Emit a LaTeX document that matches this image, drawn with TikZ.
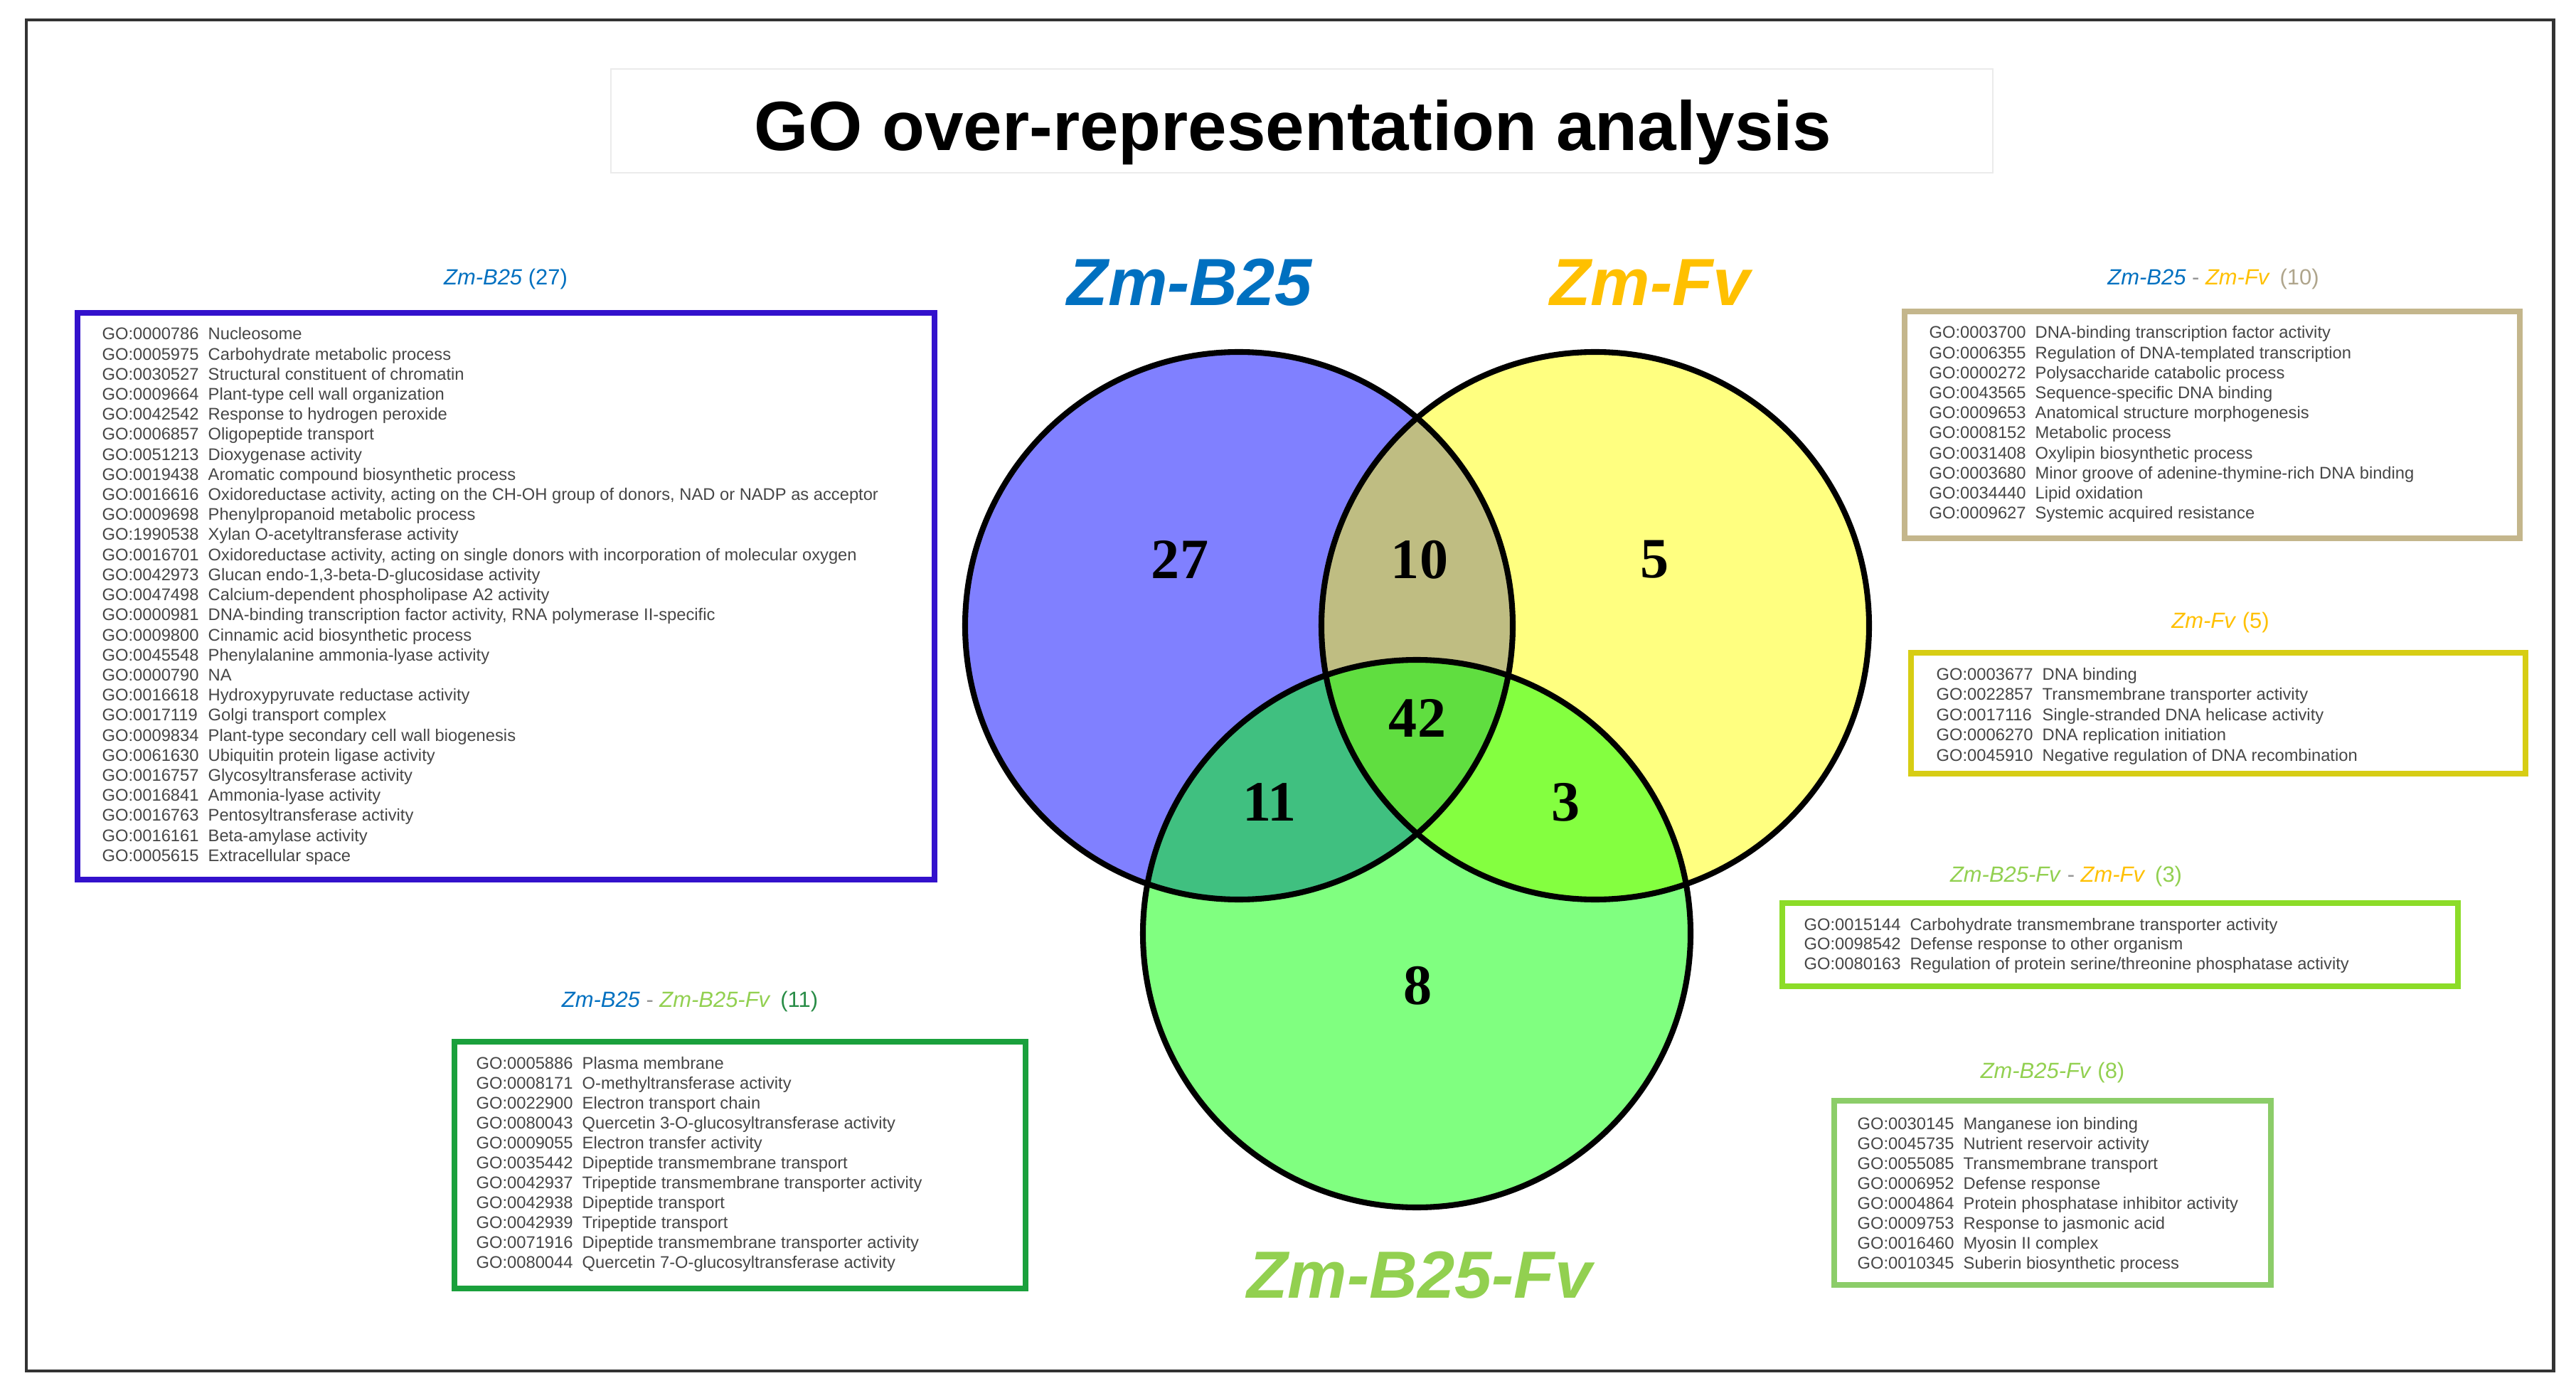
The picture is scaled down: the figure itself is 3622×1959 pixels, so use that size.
\documentclass[tikz,border=0pt]{standalone}
\usepackage{fontspec}
\setmainfont{Liberation Sans}
\newfontfamily\numfont{Liberation Serif}
\definecolor{gotext}{RGB}{70,70,70}
\definecolor{cB}{RGB}{0,112,192}
\definecolor{cY}{RGB}{255,192,0}
\definecolor{cG}{RGB}{146,208,80}
\definecolor{cTan}{RGB}{175,165,140}
\definecolor{cDkG}{RGB}{40,140,70}
\definecolor{cDash}{RGB}{150,150,150}
\definecolor{bIndigo}{RGB}{51,17,204}
\definecolor{bGreen}{RGB}{26,160,60}
\definecolor{bTan}{RGB}{196,182,140}
\definecolor{bYellow}{RGB}{215,205,20}
\definecolor{bLime}{RGB}{140,220,40}
\definecolor{bLight}{RGB}{140,205,105}
\definecolor{vB}{RGB}{128,128,255}
\definecolor{vY}{RGB}{255,255,128}
\definecolor{vG}{RGB}{128,255,128}
\definecolor{vBY}{RGB}{191,189,130}
\definecolor{vBG}{RGB}{64,192,128}
\definecolor{vYG}{RGB}{132,255,64}
\definecolor{vBYG}{RGB}{96,222,64}
\newcommand\golines[5]{%
  \foreach \gid/\gdesc [count=\gi from 0] in {#5}{%
    \node[goline] (#1-\gi) at (#2,{#3+\gi*#4}) {\makebox[14.9mm][l]{\gid}\gdesc};}}
\begin{document}
\begin{tikzpicture}[x=0.1mm,y=-0.1mm,
  goline/.style={anchor=base west, inner sep=0, font=\fontsize{6.75}{7.8}\selectfont, text=gotext},
  boxlabel/.style={inner sep=0, font=\fontsize{8.8}{10}\selectfont},
  gobox/.style={line width=2.2pt},
  vennline/.style={line width=2.3pt, black},
  bignum/.style={inner sep=0, font=\numfont\bfseries\fontsize{22.8}{24}\selectfont},
  setname/.style={anchor=base, inner sep=0, font=\bfseries\itshape\fontsize{26.7}{28}\selectfont}]
\useasboundingbox (0,0) rectangle (3622,1959);
\fill[white] (0,0) rectangle (3622,1959);
\draw[line width=1.4pt, black!80] (37,28) rectangle (3590,1928);
\draw[black!8, line width=0.6pt] (859,97) rectangle (2802,243);

% title
\node[anchor=base, inner sep=0, font=\bfseries\fontsize{27.9}{30}\selectfont] (title) at (1818,212) {GO over-representation analysis};

% Venn
\coordinate (cb) at (1742,880);
\coordinate (cy) at (2243,880);
\coordinate (cg) at (1992,1313);
\fill[vB] (cb) circle (385);
\fill[vY] (cy) circle (385);
\fill[vG] (cg) circle (385);
\begin{scope}
  \clip (cy) circle (385);
  \fill[vYG] (cg) circle (385);
\end{scope}
\begin{scope}
  \clip (cb) circle (385);
  \fill[vBY] (cy) circle (385);
  \fill[vBG] (cg) circle (385);
  \clip (cy) circle (385);
  \fill[vBYG] (cg) circle (385);
\end{scope}
\draw[vennline] (cb) circle (385);
\draw[vennline] (cy) circle (385);
\draw[vennline] (cg) circle (385);

\node[bignum] (n27) at (1659,787) {27};
\node[bignum] (n10) at (1996,787) {10};
\node[bignum] (n5) at (2327,787) {5};
\node[bignum] (n42) at (1993,1010) {42};
\node[bignum] (n11) at (1785,1128) {11};
\node[bignum] (n3) at (2202,1128) {3};
\node[bignum] (n8) at (1994,1386) {8};

\node[setname, text=cB] (sB) at (1673,430) {Zm-B25};
\node[setname, text=cY] (sY) at (2320,430) {Zm-Fv};
\node[setname, text=cG] (sG) at (1996,1825) {Zm-B25-Fv};

% Box 1: Zm-B25 (27)
\draw[gobox, bIndigo] (109,440) rectangle (1314,1237);
\node[boxlabel] (lab1) at (711,393) {\textcolor{cB}{\textit{Zm-B25} (27)}};
\golines{a}{143}{478}{28.2}{GO:0000786/{Nucleosome},
GO:0005975/{Carbohydrate metabolic process},
GO:0030527/{Structural constituent of chromatin},
GO:0009664/{Plant-type cell wall organization},
GO:0042542/{Response to hydrogen peroxide},
GO:0006857/{Oligopeptide transport},
GO:0051213/{Dioxygenase activity},
GO:0019438/{Aromatic compound biosynthetic process},
GO:0016616/{Oxidoreductase activity, acting on the CH-OH group of donors, NAD or NADP as acceptor},
GO:0009698/{Phenylpropanoid metabolic process},
GO:1990538/{Xylan O-acetyltransferase activity},
GO:0016701/{Oxidoreductase activity, acting on single donors with incorporation of molecular oxygen},
GO:0042973/{Glucan endo-1,3-beta-D-glucosidase activity},
GO:0047498/{Calcium-dependent phospholipase A2 activity},
GO:0000981/{DNA-binding transcription factor activity, RNA polymerase II-specific},
GO:0009800/{Cinnamic acid biosynthetic process},
GO:0045548/{Phenylalanine ammonia-lyase activity},
GO:0000790/{NA},
GO:0016618/{Hydroxypyruvate reductase activity},
GO:0017119/{Golgi transport complex},
GO:0009834/{Plant-type secondary cell wall biogenesis},
GO:0061630/{Ubiquitin protein ligase activity},
GO:0016757/{Glycosyltransferase activity},
GO:0016841/{Ammonia-lyase activity},
GO:0016763/{Pentosyltransferase activity},
GO:0016161/{Beta-amylase activity},
GO:0005615/{Extracellular space}}

% Box 2: Zm-B25 - Zm-B25-Fv (11)
\draw[gobox, bGreen] (639,1465) rectangle (1442,1812);
\node[boxlabel] (lab2) at (970,1408) {\textcolor{cB}{\textit{Zm-B25}} \textcolor{cDash}{-} \textcolor{cG}{\textit{Zm-B25-Fv}}\, \textcolor{cDkG}{(11)}};
\golines{b}{669}{1503}{28.0}{GO:0005886/{Plasma membrane},
GO:0008171/{O-methyltransferase activity},
GO:0022900/{Electron transport chain},
GO:0080043/{Quercetin 3-O-glucosyltransferase activity},
GO:0009055/{Electron transfer activity},
GO:0035442/{Dipeptide transmembrane transport},
GO:0042937/{Tripeptide transmembrane transporter activity},
GO:0042938/{Dipeptide transport},
GO:0042939/{Tripeptide transport},
GO:0071916/{Dipeptide transmembrane transporter activity},
GO:0080044/{Quercetin 7-O-glucosyltransferase activity}}

% Box 3: Zm-B25 - Zm-Fv (10)
\draw[gobox, bTan] (2678,438) rectangle (3543,757);
\node[boxlabel] (lab3) at (3112,393) {\textcolor{cB}{\textit{Zm-B25}} \textcolor{cDash}{-} \textcolor{cY}{\textit{Zm-Fv}}\, \textcolor{cTan}{(10)}};
\golines{c}{2712}{476}{28.2}{GO:0003700/{DNA-binding transcription factor activity},
GO:0006355/{Regulation of DNA-templated transcription},
GO:0000272/{Polysaccharide catabolic process},
GO:0043565/{Sequence-specific DNA binding},
GO:0009653/{Anatomical structure morphogenesis},
GO:0008152/{Metabolic process},
GO:0031408/{Oxylipin biosynthetic process},
GO:0003680/{Minor groove of adenine-thymine-rich DNA binding},
GO:0034440/{Lipid oxidation},
GO:0009627/{Systemic acquired resistance}}

% Box 4: Zm-Fv (5)
\draw[gobox, bYellow] (2687,918) rectangle (3551,1088);
\node[boxlabel] (lab4) at (3122,875) {\textcolor{cY}{\textit{Zm-Fv} (5)}};
\golines{d}{2722}{956}{28.5}{GO:0003677/{DNA binding},
GO:0022857/{Transmembrane transporter activity},
GO:0017116/{Single-stranded DNA helicase activity},
GO:0006270/{DNA replication initiation},
GO:0045910/{Negative regulation of DNA recombination}}

% Box 5: Zm-B25-Fv - Zm-Fv (3)
\draw[gobox, bLime] (2506,1270) rectangle (3456,1387);
\node[boxlabel] (lab5) at (2905,1232) {\textcolor{cG}{\textit{Zm-B25-Fv}} \textcolor{cDash}{-} \textcolor{cY}{\textit{Zm-Fv}}\, \textcolor{cG}{(3)}};
\golines{e}{2536}{1308}{27.5}{GO:0015144/{Carbohydrate transmembrane transporter activity},
GO:0098542/{Defense response to other organism},
GO:0080163/{Regulation of protein serine/threonine phosphatase activity}}

% Box 6: Zm-B25-Fv (8)
\draw[gobox, bLight] (2579,1548) rectangle (3193,1807);
\node[boxlabel] (lab6) at (2886,1508) {\textcolor{cG}{\textit{Zm-B25-Fv} (8)}};
\golines{f}{2611}{1588}{28.1}{GO:0030145/{Manganese ion binding},
GO:0045735/{Nutrient reservoir activity},
GO:0055085/{Transmembrane transport},
GO:0006952/{Defense response},
GO:0004864/{Protein phosphatase inhibitor activity},
GO:0009753/{Response to jasmonic acid},
GO:0016460/{Myosin II complex},
GO:0010345/{Suberin biosynthetic process}}
\end{tikzpicture}
\end{document}
